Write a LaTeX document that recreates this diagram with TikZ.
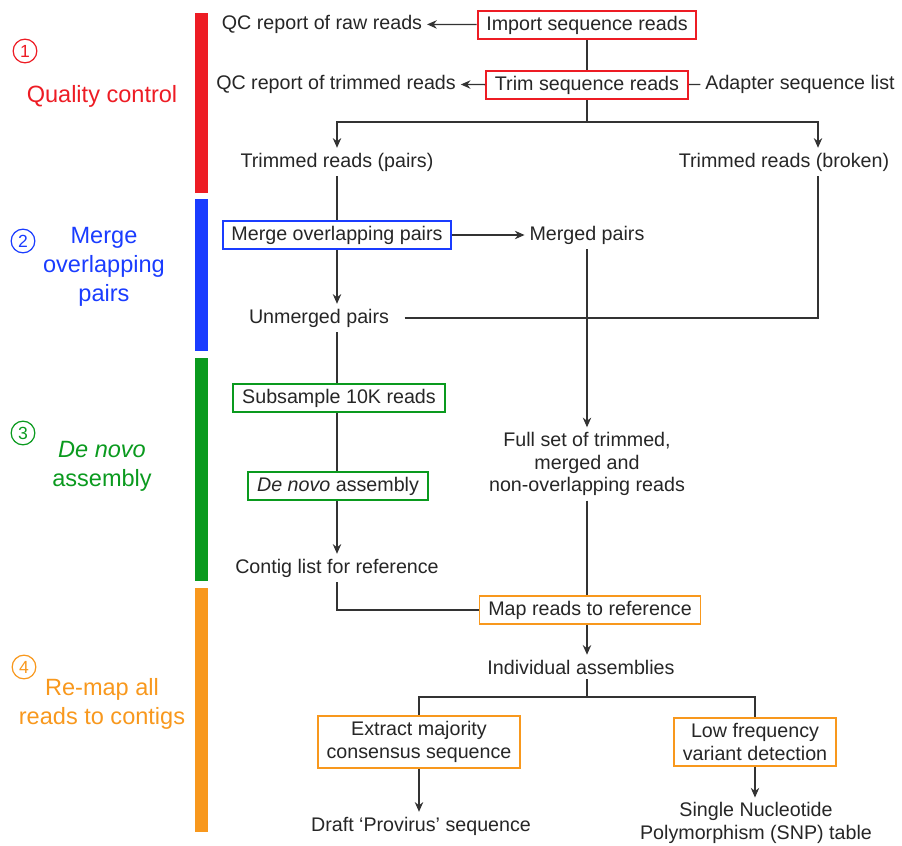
\documentclass[tikz,border=0pt]{standalone}
\usepackage{fontspec}
\setmainfont{Liberation Sans}
\usepackage{tikz}
\usetikzlibrary{arrows.meta}
\usetikzlibrary{calc}

\definecolor{qcred}{HTML}{ED1C24}
\definecolor{mergeblue}{HTML}{1A3CFF}
\definecolor{asmgreen}{HTML}{0A9A1E}
\definecolor{maporange}{HTML}{F8981D}
\definecolor{linegray}{HTML}{333333}

\begin{document}
\begin{tikzpicture}[x=0.02cm, y=-0.02cm,
        font=\fontsize{11.2}{12.8}\selectfont,
        color=linegray, line width=0.75pt,
        txt/.style={inner sep=2.5pt, align=center, text=black!85},
        box/.style={draw, line width=1.1pt, inner xsep=5pt, inner ysep=3pt, minimum height=14pt, align=center, text=black!85},
        num/.style={draw, circle, line width=0.7pt, minimum size=13.5pt, inner sep=0pt, font=\fontsize{10}{10}\selectfont},
        stage/.style={align=center, font=\fontsize{13.4}{16.4}\selectfont},
        arr/.style={-{Stealth[length=5.5pt,width=4.8pt]}}]
        \useasboundingbox (0,0) rectangle (902,845);

        \fill[qcred] (195,13) rectangle (208,193);
        \fill[mergeblue] (195,199) rectangle (208,351);
        \fill[asmgreen] (195,358) rectangle (208,581);
        \fill[maporange] (195,588) rectangle (208,832);

        \node[num, qcred] (num1) at (25,51) {1};
        \node[stage, text=qcred] (stage1) at (102,96) {Quality control};
        \node[num, mergeblue] (num2) at (23,241) {2};
        \node[stage, text=mergeblue] (stage2) at (104,267) {Merge\\overlapping\\pairs};
        \node[num, asmgreen] (num3) at (23,433) {3};
        \node[stage, text=asmgreen] (stage3) at (102,466) {\textit{De novo}\\assembly};
        \node[num, maporange] (num4) at (24,667) {4};
        \node[stage, text=maporange] (stage4) at (102,704) {Re-map all\\reads to contigs};

        \node[box, draw=qcred] (import) at (587,25) {Import sequence reads};
        \node[txt] (qcraw) at (322,24) {QC report of raw reads};
        \node[box, draw=qcred] (trim) at (587,85) {Trim sequence reads};
        \node[txt] (qctrim) at (336,84) {QC report of trimmed reads};
        \node[txt] (adapter) at (800,84) {Adapter sequence list};
        \node[txt] (pairs) at (337,162) {Trimmed reads (pairs)};
        \node[txt] (broken) at (784,162) {Trimmed reads (broken)};
        \node[box, draw=mergeblue] (merge) at (337,235) {Merge overlapping pairs};
        \node[txt] (merged) at (587,235) {Merged pairs};
        \node[txt] (unmerged) at (319,318) {Unmerged pairs};
        \node[box, draw=asmgreen] (subsample) at (339,398) {Subsample 10K reads};
        \node[box, draw=asmgreen] (denovo) at (338,486) {\textit{De novo} assembly};
        \node[txt] (contig) at (337,568) {Contig list for reference};
        \node[txt] (fullset) at (587,464) {Full set of trimmed,\\merged and\\non-overlapping reads};
        \node[box, draw=maporange] (map) at (590,610) {Map reads to reference};
        \node[txt] (indiv) at (581,667) {Individual assemblies};
        \node[box, draw=maporange] (extract) at (419,742) {Extract majority\\consensus sequence};
        \node[box, draw=maporange] (lowfreq) at (755,742) {Low frequency\\variant detection};
        \node[txt] (draft) at (421,826) {Draft `Provirus' sequence};
        \node[txt] (snp) at (756,823) {Single Nucleotide\\Polymorphism (SNP) table};

        \coordinate (split) at (587,122);
        \coordinate (branch) at (587,697);

        \draw[arr] (import) -- (qcraw);
        \draw (import) -- (trim);
        \draw[arr] (trim) -- (qctrim);
        \draw (adapter) -- (trim);
        \draw (trim) -- (split);
        \draw[arr] (split) -| (pairs);
        \draw[arr] (split) -| ($(broken.north)+(34,0)$);
        \draw (pairs) -- (merge);
        \draw[arr] (merge) -- (merged);
        \draw[arr] (merge.south) -- (merge.south |- unmerged.north);
        \draw ([xshift=6pt]unmerged.east) -| ($(broken.south)+(34,0)$);
        \draw[arr] (merged) -- (fullset);
        \draw (merge.south |- unmerged.south) -- (subsample.north -| merge.south);
        \draw (subsample.south -| merge.south) -- (denovo.north -| merge.south);
        \draw[arr] (denovo.south -| merge.south) -- (contig.north -| merge.south);
        \draw (contig.south -| merge.south) |- (map);
        \draw (fullset) -- (fullset |- map.north);
        \draw[arr] (fullset |- map.south) -- (fullset |- indiv.north);
        \draw (branch |- indiv.south) -- (branch);
        \draw (branch) -| (extract);
        \draw (branch) -| (lowfreq);
        \draw[arr] (extract) -- (extract |- draft.north);
        \draw[arr] (lowfreq) -- (lowfreq |- snp.north);
    \end{tikzpicture}
\end{document}
